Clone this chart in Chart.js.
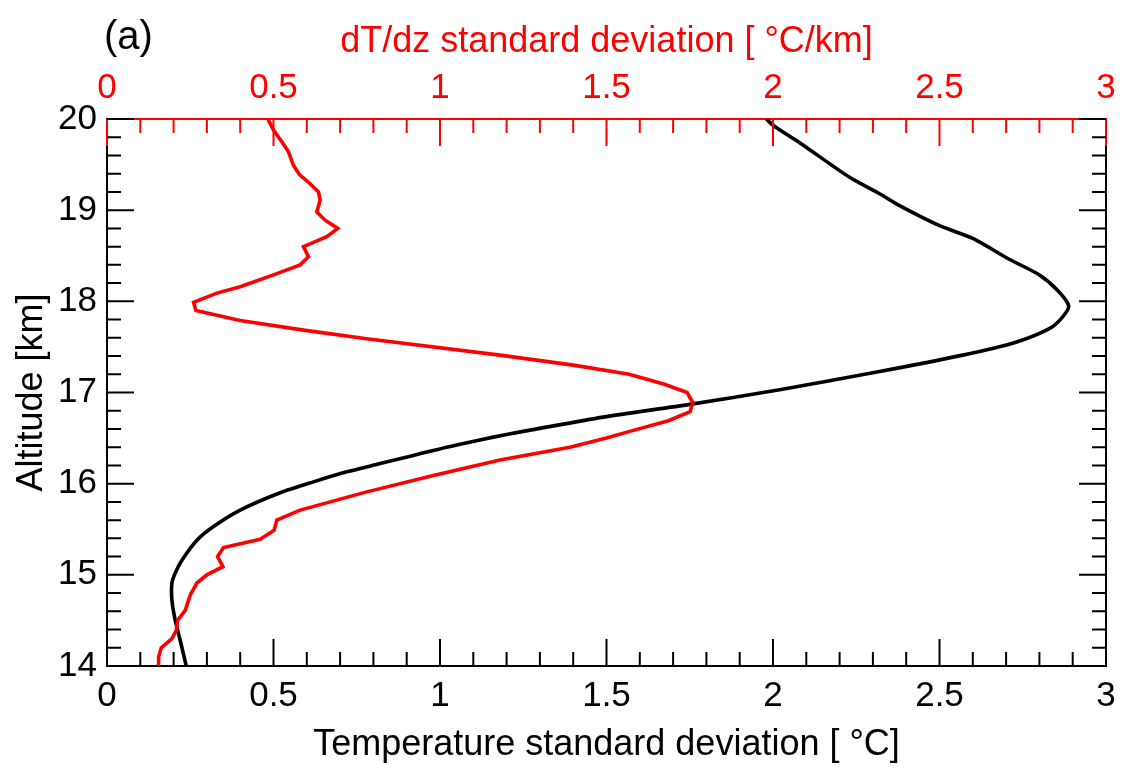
<!DOCTYPE html>
<html>
<head>
<meta charset="utf-8">
<script src="https://cdn.jsdelivr.net/npm/chart.js@4"></script>
<style>
html, body { margin: 0; padding: 0; background: #fff; }
</style>
</head>
<body>
<canvas id="std-chart" width="1127" height="775"></canvas>
<script>
// altitude [km] and dT/dz standard deviation [C/km] (red, top axis)
const redAlt = [14.0, 14.1, 14.2, 14.3, 14.39, 14.5, 14.61, 14.78, 14.91, 15.0, 15.09, 15.2, 15.3, 15.39, 15.49, 15.6,
    15.71, 15.91, 16.09, 16.26, 16.4, 16.5, 16.59, 16.69, 16.79, 16.89, 17.0, 17.09, 17.2, 17.3, 17.41, 17.59, 17.69,
    17.79, 17.9, 17.99, 18.09, 18.16, 18.29, 18.4, 18.49, 18.6, 18.71, 18.8, 18.89, 18.98, 19.11, 19.2, 19.29, 19.39,
    19.49, 19.64, 19.75, 19.88, 20.0]
const redVal = [0.155, 0.155, 0.163, 0.195, 0.208, 0.212, 0.235, 0.25, 0.27, 0.30, 0.348, 0.332, 0.35, 0.46, 0.502, 0.51,
    0.58, 0.78, 0.98, 1.18, 1.39, 1.50, 1.586, 1.686, 1.751, 1.759, 1.742, 1.674, 1.568, 1.40, 1.18, 0.78, 0.58,
    0.40, 0.267, 0.26, 0.33, 0.40, 0.50, 0.58, 0.605, 0.59, 0.66, 0.693, 0.655, 0.63, 0.64, 0.635, 0.61, 0.578,
    0.56, 0.545, 0.525, 0.50, 0.483]

// altitude [km] and temperature standard deviation [C] (black, bottom axis)
const blackAlt = [14.0, 14.28, 14.5, 14.72, 14.91, 15.02, 15.16, 15.38, 15.53, 15.71, 15.9, 16.02, 16.13, 16.22, 16.31,
    16.4, 16.48, 16.54, 16.59, 16.73, 16.87, 17.03, 17.23, 17.41, 17.54, 17.7, 17.83, 17.95, 18.12, 18.29, 18.47,
    18.69, 18.83, 19.05, 19.18, 19.36, 19.74, 19.92, 20.0]
const blackVal = [0.238, 0.22, 0.205, 0.195, 0.195, 0.205, 0.225, 0.27, 0.32, 0.40, 0.52, 0.62, 0.72, 0.82, 0.92,
    1.02, 1.12, 1.20, 1.275, 1.49, 1.75, 2.02, 2.32, 2.57, 2.72, 2.83, 2.87, 2.888, 2.855, 2.80, 2.705,
    2.60, 2.50, 2.38, 2.32, 2.23, 2.08, 2.004, 1.98]

const xTicksMajor = 0.5
const yTicksMajor = 1

const fontFamily = "'Liberation Sans', Arial, Helvetica, sans-serif"
const RED = '#ff0000'

// ticks drawn inside the frame on all four sides, like the original plot
const insideTicks = {
    id: 'insideTicks',
    afterDatasetsDraw(chart) {
        const {ctx, chartArea: a, scales} = chart
        ctx.save()
        ctx.lineWidth = 2

        // right frame line
        ctx.strokeStyle = '#000'
        ctx.beginPath()
        ctx.moveTo(a.right, a.top)
        ctx.lineTo(a.right, a.bottom)
        ctx.stroke()

        for (let i = 0; i <= 30; i++) {
            const len = i % 5 === 0 ? 27 : 14
            const pb = scales.x.getPixelForValue(i / 10)
            ctx.strokeStyle = '#000'
            ctx.beginPath()
            ctx.moveTo(pb, a.bottom)
            ctx.lineTo(pb, a.bottom - len)
            ctx.stroke()

            const pt = scales.x2.getPixelForValue(i / 10)
            ctx.strokeStyle = RED
            ctx.beginPath()
            ctx.moveTo(pt, a.top)
            ctx.lineTo(pt, a.top + len)
            ctx.stroke()
        }

        ctx.strokeStyle = '#000'
        for (let j = 0; j <= 30; j++) {
            const len = j % 5 === 0 ? 27 : 14
            const py = scales.y.getPixelForValue(14 + j * 0.2)
            ctx.beginPath()
            ctx.moveTo(a.left, py)
            ctx.lineTo(a.left + len, py)
            ctx.moveTo(a.right, py)
            ctx.lineTo(a.right - len, py)
            ctx.stroke()
        }

        // panel label
        ctx.fillStyle = '#000'
        ctx.font = '40px ' + fontFamily
        ctx.textAlign = 'left'
        ctx.textBaseline = 'middle'
        ctx.fillText('(a)', 104, 38)
        ctx.restore()
    }
}

document.addEventListener('DOMContentLoaded', function () {
    const ctx = document.getElementById('std-chart').getContext('2d')

    const chart = new Chart(ctx, {
        type: 'scatter',
        data: {
            datasets: [{
                label: 'dT/dz standard deviation',
                data: redAlt.map((h, i) => ({x: redVal[i], y: h})),
                xAxisID: 'x2',
                yAxisID: 'y',
                showLine: true,
                borderColor: RED,
                borderWidth: 3.6,
                pointRadius: 0,
                tension: 0
            }, {
                label: 'Temperature standard deviation',
                data: blackAlt.map((h, i) => ({x: blackVal[i], y: h})),
                xAxisID: 'x',
                yAxisID: 'y',
                showLine: true,
                borderColor: '#000',
                borderWidth: 3.6,
                pointRadius: 0,
                tension: 0.25
            }]
        },
        options: {
            responsive: false,
            animation: false,
            layout: {padding: {left: 0, right: 21, top: 0, bottom: 0}},
            plugins: {
                legend: {display: false},
                tooltip: {enabled: false}
            },
            scales: {
                x: {
                    type: 'linear',
                    position: 'bottom',
                    min: 0,
                    max: 3,
                    ticks: {stepSize: xTicksMajor, color: '#000', font: {size: 35, family: fontFamily}, padding: 9, maxRotation: 0, autoSkip: false,
                        callback: v => String(v)},
                    grid: {display: false, drawTicks: false},
                    border: {display: true, color: '#000', width: 2},
                    title: {display: true, text: 'Temperature standard deviation [ °C]', color: '#000',
                        font: {size: 36, family: fontFamily}, padding: {top: 0, bottom: 8}},
                    afterFit: s => { s.height = 109 }
                },
                x2: {
                    type: 'linear',
                    position: 'top',
                    min: 0,
                    max: 3,
                    ticks: {stepSize: xTicksMajor, color: RED, font: {size: 35, family: fontFamily}, padding: 10, maxRotation: 0, autoSkip: false,
                        callback: v => String(v)},
                    grid: {display: false, drawTicks: false},
                    border: {display: true, color: RED, width: 2},
                    title: {display: true, text: 'dT/dz standard deviation [ °C/km]', color: RED,
                        font: {size: 36, family: fontFamily}, padding: {top: 20, bottom: 0}},
                    afterFit: s => { s.height = 119 }
                },
                y: {
                    type: 'linear',
                    position: 'left',
                    min: 14,
                    max: 20,
                    ticks: {stepSize: yTicksMajor, color: '#000', font: {size: 35, family: fontFamily}, padding: 10},
                    grid: {display: false, drawTicks: false},
                    border: {display: true, color: '#000', width: 2},
                    title: {display: true, text: 'Altitude [km]', color: '#000',
                        font: {size: 36, family: fontFamily}, padding: {top: 10, bottom: 0}},
                    afterFit: s => { s.width = 107 }
                }
            }
        },
        plugins: [insideTicks]
    })
})
</script>
</body>
</html>
